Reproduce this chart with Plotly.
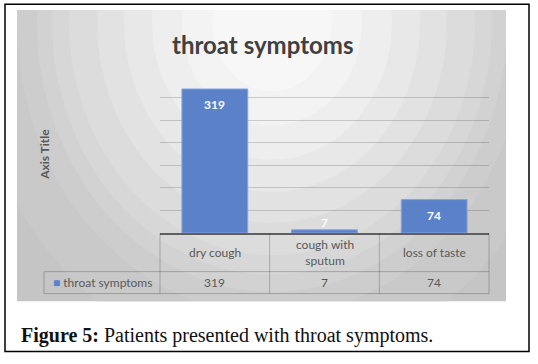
import plotly.graph_objects as go

# ---- data ----
categories = ["dry cough", "cough with sputum", "loss of taste"]
category_labels = ["dry cough", "cough with<br>sputum", "loss of taste"]
values = [319, 7, 74]
series_name = "throat symptoms"
chart_title = "throat symptoms"
axis_title = "Axis Title"
caption_bold = "Figure 5:"
caption_text = "Patients presented with throat symptoms."

W, H = 538, 364
L, R, T, B = 160, 489, 75, 233.3
BAR_COLOR = "#5b82c9"
TXT = "#595959"
FONT = "Lato, 'Open Sans', sans-serif"


def px(x):
    return (x - L) / (R - L)


def py(y):
    return (B - y) / (B - T)


fig = go.Figure()
fig.add_trace(go.Bar(
    x=categories, y=values, name=series_name, width=0.6,
    marker=dict(color=BAR_COLOR, line=dict(color="#86a3da", width=1)),
    showlegend=False, hoverinfo="x+y",
))

shapes = []
# gray chart area base
GX0, GY0, GX1, GY1 = 17, 10, 506, 302
shapes.append(dict(type="rect", xref="paper", yref="paper", layer="below",
                   x0=px(GX0), x1=px(GX1), y0=py(GY1), y1=py(GY0),
                   fillcolor="#c5c5c5", line=dict(width=0)))
# radial gradient rings (elliptical)
cx, cy, sy = 272, 22, 1.15
rings = [(300, "#c9c9c9"), (255, "#cdcdcd"), (235, "#d2d2d2"), (220, "#d7d7d7"),
         (203, "#dcdcdc"), (175, "#e2e2e2"), (148, "#e8e8e8"), (120, "#eeeeee"),
         (90, "#f3f3f3"), (60, "#f7f7f7")]
for r, c in rings:
    shapes.append(dict(type="circle", xref="paper", yref="paper", layer="below",
                       x0=px(cx - r), x1=px(cx + r), y0=py(cy + r * sy), y1=py(cy - r * sy),
                       fillcolor=c, line=dict(width=0)))
# white masks outside gray area
for (x0, y0, x1, y1) in [(-400, -400, W + 400, GY0), (-400, GY1, W + 400, H + 400),
                         (-400, -400, GX0, H + 400), (GX1, -400, W + 400, H + 400)]:
    shapes.append(dict(type="rect", xref="paper", yref="paper", layer="below",
                       x0=px(x0), x1=px(x1), y0=py(y1), y1=py(y0),
                       fillcolor="white", line=dict(width=0)))
# outer black frame
shapes.append(dict(type="rect", xref="paper", yref="paper", layer="below",
                   x0=px(5), x1=px(529), y0=py(352), y1=py(4),
                   fillcolor="rgba(0,0,0,0)", line=dict(color="black", width=1.5)))

# data table grid
TL = "rgba(0,0,0,0.22)"
ROW1, ROW2 = 272, 294
cell_w = (R - L) / len(categories)
for yy, x0 in [(ROW1, 44), (ROW2, 44)]:
    shapes.append(dict(type="line", xref="paper", yref="paper",
                       x0=px(x0), x1=px(R), y0=py(yy), y1=py(yy), line=dict(color=TL, width=1)))
for i in range(len(categories) + 1):
    xx = L + i * cell_w
    shapes.append(dict(type="line", xref="paper", yref="paper",
                       x0=px(xx), x1=px(xx), y0=py(B), y1=py(ROW2), line=dict(color=TL, width=1)))
shapes.append(dict(type="line", xref="paper", yref="paper",
                   x0=px(44), x1=px(44), y0=py(ROW1), y1=py(ROW2), line=dict(color=TL, width=1)))

annotations = []
# bar data labels
for c, v in zip(categories, values):
    annotations.append(dict(x=c, y=v, xref="x", yref="y", text=f"<b>{v}</b>",
                            showarrow=False, yanchor="middle",
                            yshift=-16 if v > 30 else 7,
                            font=dict(family=FONT, size=12, color="white")))
# table header & values
for c, lab, v in zip(categories, category_labels, values):
    annotations.append(dict(x=c, y=py(252.5), xref="x", yref="paper", text=lab,
                            showarrow=False, yanchor="middle",
                            font=dict(family=FONT, size=12, color=TXT)))
    annotations.append(dict(x=c, y=py(282.5), xref="x", yref="paper", text=str(v),
                            showarrow=False, yanchor="middle",
                            font=dict(family=FONT, size=12, color=TXT)))
annotations.append(dict(x=px(102), y=py(282.5), xref="paper", yref="paper",
                        text=f"<span style='color:{BAR_COLOR}'>■</span> {series_name}",
                        showarrow=False, yanchor="middle", xanchor="center",
                        font=dict(family=FONT, size=12, color=TXT)))
# axis title
annotations.append(dict(x=px(45), y=py(155), xref="paper", yref="paper", text=axis_title,
                        textangle=-90, showarrow=False, xanchor="center", yanchor="middle",
                        font=dict(family=FONT, size=12, color=TXT, weight=700)))
# chart title
annotations.append(dict(x=px(262), y=py(44), xref="paper", yref="paper", text=f"<b>{chart_title}</b>",
                        showarrow=False, xanchor="center", yanchor="middle",
                        font=dict(family=FONT, size=24, color="#404040")))
# caption
annotations.append(dict(x=px(19), y=py(336), xref="paper", yref="paper",
                        text=f"<b>{caption_bold}</b> {caption_text}",
                        showarrow=False, xanchor="left", yanchor="middle",
                        font=dict(family="'Liberation Serif', serif", size=20, color="#111111")))

fig.update_layout(
    width=W, height=H,
    margin=dict(l=L, r=W - R, t=T, b=H - B, pad=0),
    paper_bgcolor="white", plot_bgcolor="rgba(0,0,0,0)",
    shapes=shapes, annotations=annotations, showlegend=False,
    bargap=0.4,
)
fig.update_xaxes(range=[-0.5, 2.5], showticklabels=False, ticks="", showgrid=False,
                 showline=True, linecolor="#5f5f5f", linewidth=1.5, zeroline=False, fixedrange=True)
fig.update_yaxes(range=[0, 350], dtick=50, showticklabels=False, ticks="", showgrid=True,
                 gridcolor="rgba(0,0,0,0.17)", gridwidth=1, zeroline=False, showline=False,
                 fixedrange=True)

fig.write_html("out.html", config={"displayModeBar": False},
               post_script="document.body.style.margin='0';document.body.style.overflow='hidden';")
